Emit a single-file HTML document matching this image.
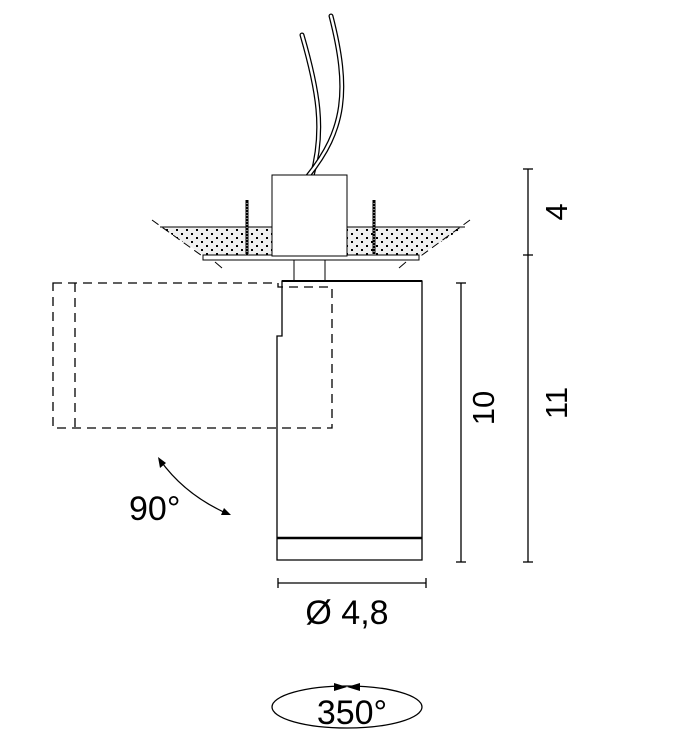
<!DOCTYPE html>
<html><head><style>body{margin:0;background:#fff}svg{display:block}</style></head><body>
<svg width="684" height="745" viewBox="0 0 684 745" xmlns="http://www.w3.org/2000/svg" font-family="Liberation Sans, sans-serif">
<defs>
<pattern id="dots" width="10" height="8" patternUnits="userSpaceOnUse">
<rect width="10" height="8" fill="#f0f0f0"/><rect x="1" y="1" width="2" height="2" fill="#000"/><rect x="6" y="5" width="2" height="2" fill="#000"/>
</pattern>
</defs>
<g fill="none" stroke-linecap="round">
<path d="M312 176 C325 130 318 90 302 35" stroke="#000" stroke-width="5"/>
<path d="M312 176 C325 130 318 90 302 35" stroke="#fff" stroke-width="2.5"/>
<path d="M308 176 C345 130 350 90 331 16" stroke="#000" stroke-width="5"/>
<path d="M308 176 C345 130 350 90 331 16" stroke="#fff" stroke-width="2.5"/>
</g>
<polygon points="160,227 272,227 272,256 205,256" fill="url(#dots)"/>
<polygon points="347,227 465,227 418,256 347,256" fill="url(#dots)"/>
<g stroke="#000" stroke-width="1" fill="none">
<line x1="160" y1="227" x2="272" y2="227"/><line x1="347" y1="227" x2="465" y2="227"/>
<line x1="152" y1="220" x2="205" y2="258" stroke-dasharray="8,5"/>
<line x1="470" y1="220" x2="418" y2="258" stroke-dasharray="8,5"/>
<line x1="215" y1="262" x2="222" y2="268"/><line x1="406" y1="262" x2="399" y2="268"/>
</g>
<rect x="203" y="255" width="216" height="5" fill="#fff" stroke="#000"/>
<rect x="272" y="175" width="75" height="81" fill="#fff" stroke="#000"/>
<g stroke="#000" stroke-width="3"><line x1="247" y1="200" x2="247" y2="254"/><line x1="374" y1="200" x2="374" y2="254"/></g>
<g stroke="#fff" stroke-width="1" stroke-dasharray="1,2"><line x1="247" y1="203" x2="247" y2="252"/><line x1="374" y1="203" x2="374" y2="252"/></g>
<rect x="294" y="260" width="31" height="21" fill="#fff" stroke="#000"/>
<path d="M282 281 H422 V560 H277 V336 H282 Z" fill="#fff" stroke="#000" stroke-width="1.3"/>
<line x1="282" y1="281" x2="422" y2="281" stroke="#000" stroke-width="2"/>
<line x1="277" y1="538" x2="422" y2="538" stroke="#000" stroke-width="2.5"/>
<g stroke="#000" stroke-width="1.3" fill="none" stroke-dasharray="9,6">
<path d="M53 283 H278 V287 H332 V428 H53 Z"/>
<line x1="75" y1="283" x2="75" y2="428"/>
</g>
<path d="M160 460 Q185 495 228 514" fill="none" stroke="#000" stroke-width="1.2"/>
<polygon points="158,457 160,468 166,463" fill="#000"/>
<polygon points="231,515 221,515 224,508" fill="#000"/>
<text x="129" y="520" font-size="34">90°</text>
<g stroke="#000" stroke-width="1.3">
<line x1="278" y1="583" x2="426" y2="583"/><line x1="278" y1="578" x2="278" y2="588"/><line x1="426" y1="578" x2="426" y2="588"/>
<line x1="461" y1="283" x2="461" y2="562"/><line x1="456" y1="283" x2="466" y2="283"/><line x1="456" y1="562" x2="466" y2="562"/>
<line x1="528" y1="169" x2="528" y2="562"/><line x1="523" y1="169" x2="533" y2="169"/><line x1="523" y1="255" x2="533" y2="255"/><line x1="523" y1="562" x2="533" y2="562"/>
</g>
<text x="347" y="624" font-size="34" text-anchor="middle">Ø 4,8</text>
<text transform="translate(494,408) rotate(-90)" font-size="31" text-anchor="middle">10</text>
<text transform="translate(567,212) rotate(-90)" font-size="31" text-anchor="middle">4</text>
<text transform="translate(567,403) rotate(-90)" font-size="31" text-anchor="middle">11</text>
<ellipse cx="347" cy="707" rx="75" ry="21" fill="none" stroke="#000" stroke-width="1.3"/>
<polygon points="334,683 347,687 334,691" fill="#000"/>
<polygon points="360,683 347,687 360,691" fill="#000"/>
<text x="352" y="724" font-size="34" text-anchor="middle">350°</text>
</svg>
</body></html>
